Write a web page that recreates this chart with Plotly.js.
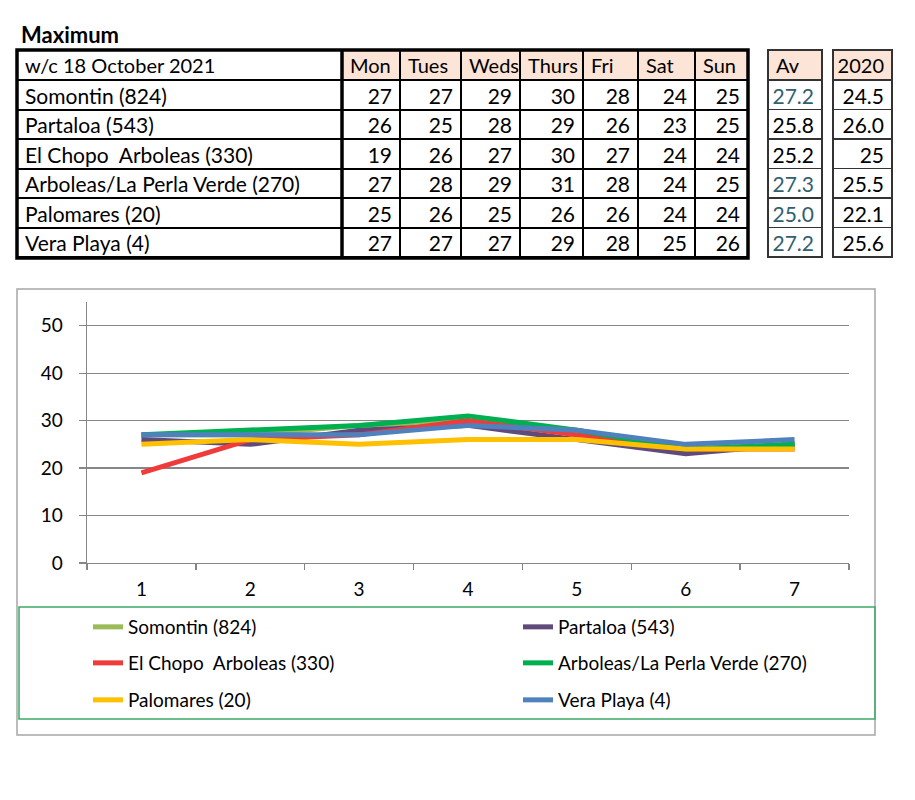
<!DOCTYPE html>
<html>
<head>
<meta charset="utf-8">
<script src="https://cdn.plot.ly/plotly-3.0.1.min.js"></script>
<style>html,body{margin:0;padding:0;background:#fff;}#chart{width:915px;height:800px;}</style>
</head>
<body>
<div id="chart"></div>
<script>
// ---------- data ----------
const tableTitle = 'Maximum';
const weekLabel = 'w/c 18 October 2021';
const days = ['Mon', 'Tues', 'Weds', 'Thurs', 'Fri', 'Sat', 'Sun'];
const dayNumbers = ['1', '2', '3', '4', '5', '6', '7'];
const stations = ['Somontin (824)', 'Partaloa (543)', 'El Chopo\u00a0 Arboleas (330)',
  'Arboleas/La Perla Verde (270)', 'Palomares (20)', 'Vera Playa (4)'];
const somontin = [27, 27, 29, 30, 28, 24, 25];
const partaloa = [26, 25, 28, 29, 26, 23, 25];
const elChopo = [19, 26, 27, 30, 27, 24, 24];
const arboleas = [27, 28, 29, 31, 28, 24, 25];
const palomares = [25, 26, 25, 26, 26, 24, 24];
const veraPlaya = [27, 27, 27, 29, 28, 25, 26];
const avLabel = 'Av';
const averages = ['27.2', '25.8', '25.2', '27.3', '25.0', '27.2'];
const avHighlighted = [true, false, false, true, true, true];
const prevLabel = '2020';
const prevYear = ['24.5', '26.0', '25', '25.5', '22.1', '25.6'];
const seriesColors = ['#9BBB59', '#604A7B', '#F03B3B', '#00B050', '#FFC000', '#4F81BD'];

// ---------- helpers ----------
const W = 915, H = 800;
const px = x => x / W;
const py = y => 1 - y / H;
const FONT = 'Lato, "Open Sans", sans-serif';
const series = [somontin, partaloa, elChopo, arboleas, palomares, veraPlaya];
const peach = '#FCE4D6';

// ---------- table traces ----------
const dayColumns = days.map((d, i) => series.map(s => s[i]));
const mainTable = {
  type: 'table',
  domain: {x: [px(17), px(748)], y: [py(262), py(50)]},
  columnwidth: [325, 58, 61, 59, 63, 55, 57, 53],
  header: {
    values: [weekLabel].concat(days),
    align: 'left',
    height: 30,
    fill: {color: ['#ffffff'].concat(days.map(() => peach))},
    line: {color: '#000', width: 2},
    font: {family: FONT, size: 20, color: '#000'}
  },
  cells: {
    values: [stations].concat(dayColumns),
    align: ['left'].concat(days.map(() => 'right')),
    height: 29.5,
    fill: {color: '#ffffff'},
    line: {color: '#000', width: 2},
    font: {family: FONT, size: 21, color: '#000'}
  }
};
const avTable = {
  type: 'table',
  domain: {x: [px(768), px(823)], y: [py(262), py(50)]},
  header: {
    values: [avLabel], align: 'left', height: 30,
    fill: {color: peach}, line: {color: '#333', width: 1.5},
    font: {family: FONT, size: 20, color: '#000'}
  },
  cells: {
    values: [averages], align: 'right', height: 29.5,
    fill: {color: '#ffffff'}, line: {color: '#333', width: 1.5},
    font: {family: FONT, size: 21, color: [averages.map((v, i) => avHighlighted[i] ? '#31606E' : '#000')]}
  }
};
const prevTable = {
  type: 'table',
  domain: {x: [px(833), px(892)], y: [py(262), py(50)]},
  header: {
    values: [prevLabel], align: 'right', height: 30,
    fill: {color: peach}, line: {color: '#333', width: 1.5},
    font: {family: FONT, size: 20, color: '#000'}
  },
  cells: {
    values: [prevYear], align: 'right', height: 29.5,
    fill: {color: '#ffffff'}, line: {color: '#333', width: 1.5},
    font: {family: FONT, size: 21, color: '#000'}
  }
};

// ---------- line traces ----------
const legendIds = ['legend', 'legend2', 'legend3', 'legend4', 'legend5', 'legend6'];
const lineTraces = stations.map((name, i) => ({
  type: 'scatter',
  mode: 'lines',
  name: name,
  x: dayNumbers,
  y: series[i],
  line: {color: seriesColors[i], width: 5},
  legend: legendIds[i],
  hoverinfo: 'skip'
}));

const legendBase = {
  orientation: 'h',
  xanchor: 'left',
  yanchor: 'middle',
  bgcolor: 'rgba(0,0,0,0)',
  borderwidth: 0,
  font: {family: FONT, size: 19, color: '#000'}
};
// two columns, three rows of legend entries
const legendCols = [88, 518];
const legendRows = [627, 663, 700];

const gridGray = '#868686';
const layout = {
  width: W,
  height: H,
  margin: {l: 0, r: 0, t: 0, b: 0},
  paper_bgcolor: '#fff',
  plot_bgcolor: '#fff',
  showlegend: true,
  xaxis: {
    domain: [px(87), px(849)],
    type: 'category',
    range: [-0.5, 6.5],
    showgrid: false,
    showline: true,
    linecolor: gridGray,
    linewidth: 1.3,
    ticks: 'outside',
    tickson: 'boundaries',
    ticklen: 6,
    tickcolor: gridGray,
    tickwidth: 1.3,
    ticklabelstandoff: 9,
    tickfont: {family: FONT, size: 19, color: '#000'},
    zeroline: false,
    fixedrange: true
  },
  yaxis: {
    domain: [py(563), py(302)],
    range: [0, 55],
    dtick: 10,
    tick0: 0,
    showgrid: true,
    gridcolor: gridGray,
    gridwidth: 1.3,
    showline: true,
    linecolor: gridGray,
    linewidth: 1.3,
    ticks: 'outside',
    ticklen: 7,
    tickcolor: gridGray,
    tickwidth: 1.3,
    ticklabelstandoff: 12,
    tickfont: {family: FONT, size: 19, color: '#000'},
    zeroline: false,
    fixedrange: true
  },
  annotations: [{
    xref: 'paper', yref: 'paper', x: px(19), y: py(35),
    xanchor: 'left', yanchor: 'middle', showarrow: false,
    text: '<b>' + tableTitle + '</b>',
    font: {family: FONT, size: 22, color: '#000'}
  }],
  shapes: [
    {type: 'rect', xref: 'paper', yref: 'paper', x0: px(17), x1: px(748), y0: py(50), y1: py(258),
      line: {color: '#000', width: 3.5}, layer: 'above'},
    {type: 'line', xref: 'paper', yref: 'paper', x0: px(342), x1: px(342), y0: py(50), y1: py(258),
      line: {color: '#000', width: 3.5}, layer: 'above'},
    {type: 'rect', xref: 'paper', yref: 'paper', x0: px(17), x1: px(875), y0: py(289), y1: py(735),
      line: {color: '#A6A6A6', width: 1.5}, layer: 'below'},
    {type: 'rect', xref: 'paper', yref: 'paper', x0: px(19), x1: px(875), y0: py(607), y1: py(719),
      line: {color: '#3DAA66', width: 1.5}, layer: 'below'}
  ]
};
legendIds.forEach((id, i) => {
  layout[id] = Object.assign({}, legendBase, {
    x: px(legendCols[i % 2]),
    y: py(legendRows[Math.floor(i / 2)])
  });
});

Plotly.newPlot('chart', [mainTable, avTable, prevTable].concat(lineTraces), layout,
  {staticPlot: true, displayModeBar: false});
</script>
</body>
</html>
